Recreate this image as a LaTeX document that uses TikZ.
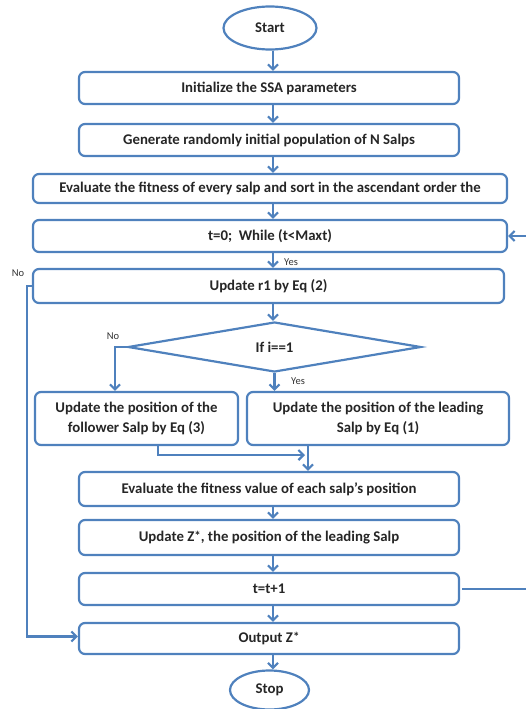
\documentclass[tikz,border=0pt]{standalone}
\usepackage{fontspec}
\setmainfont{Carlito}
\usetikzlibrary{shapes.geometric,arrows.meta}
\definecolor{obl}{RGB}{79,129,189}
\newcommand{\zstar}{\raisebox{0.25ex}{\fontsize{13}{13}\selectfont*}}
\begin{document}
\begin{tikzpicture}[x=1pt,y=-1pt,
  box/.style={draw=obl,line width=2.2pt,rounded corners=6pt,inner sep=0pt,
    font=\fontsize{14.8}{20}\selectfont\bfseries,align=center,text=black!85},
  oval/.style={draw=obl,line width=2.2pt,ellipse,inner sep=0pt,
    font=\fontsize{14.8}{18}\selectfont\bfseries,text=black!85},
  arr/.style={draw=obl,line width=2.2pt,-{Straight Barb[length=5pt,width=10pt]}},
  lab/.style={font=\fontsize{10.5}{12}\selectfont,text=black!80,inner sep=0pt}]
\useasboundingbox (0,0) rectangle (525,709);
\node[oval,minimum width=93pt,minimum height=43pt] (start) at (270,28) {Start};
\node[box,minimum width=380pt,minimum height=32pt] (init) at (269,88) {Initialize the SSA parameters};
\node[box,minimum width=380pt,minimum height=32pt] (gen) at (269,140) {Generate randomly initial population of N Salps};
\node[box,minimum width=474pt,minimum height=29pt] (eval) at (270,188.5) {Evaluate the fitness of every salp and sort in the ascendant order the};
\node[box,minimum width=474pt,minimum height=32pt] (t0) at (270,236) {t=0;\ \ While (t<Maxt)};
\node[box,minimum width=471pt,minimum height=34pt] (r1) at (268.5,286) {Update r1 by Eq (2)};
\node[diamond,draw=obl,line width=2.2pt,inner sep=0pt,minimum width=293pt,minimum height=50pt,
  font=\fontsize{14.8}{18}\selectfont\bfseries,text=black!85] (dia) at (274.5,347) {If i==1};
\node[box,minimum width=203pt,minimum height=53pt] (foll) at (136.5,418.5) {Update the position of the\\follower Salp by Eq (3)};
\node[box,minimum width=262pt,minimum height=53pt] (lead) at (378,418.5) {Update the position of the leading\\Salp by Eq (1)};
\node[box,minimum width=380pt,minimum height=34pt] (evf) at (269,489) {Evaluate the fitness value of each salp’s position};
\node[box,minimum width=380pt,minimum height=35pt] (upz) at (269,537.5) {Update Z\zstar, the position of the leading Salp};
\node[box,minimum width=380pt,minimum height=32pt] (tt) at (269,589) {t=t+1};
\node[box,minimum width=380pt,minimum height=31pt] (out) at (269,638.5) {Output Z\zstar};
\node[oval,minimum width=79pt,minimum height=39pt] (stop) at (269.5,690) {Stop};
% labels
\node[lab,anchor=west] (yes1) at (284,262) {Yes};
\node[lab] (no1) at (18,273) {No};
\node[lab] (no2) at (113,336) {No};
\node[lab,anchor=west] (yes2) at (291,381) {Yes};
% helper coordinates
\coordinate (X) at (273,0);
\coordinate (XL) at (115,0);
\coordinate (XF) at (158,0);
\coordinate (XM) at (308,0);
\coordinate (XR) at (540,0);
\coordinate (XLL) at (27,0);
% main arrows
\draw[arr] (start.south -| X) -- (init.north -| X);
\draw[arr] (init.south -| X) -- (gen.north -| X);
\draw[arr] (gen.south -| X) -- (eval.north -| X);
\draw[arr] (eval.south -| X) -- (t0.north -| X);
\draw[arr] (t0.south -| X) -- (r1.north -| X);
\draw[arr] (r1.south -| X) -- (dia.north -| X);
\draw[arr] (dia.south) -- (lead.north -| dia.south);
\draw[arr] (dia.west) -| (foll.north -| XL);
\coordinate (join) at (305,455);
\draw[arr] (foll.south -| XF) |- (join);
\draw[arr] (lead.south -| XM) -- (evf.north -| XM);
\draw[arr] (evf.south -| X) -- (upz.north -| X);
\draw[arr] (upz.south -| X) -- (tt.north -| X);
\draw[arr] (tt.south -| X) -- (out.north -| X);
\draw[arr] (out.south -| X) -- (stop.north -| X);
% loops
\draw[arr] ([xshift=2pt]tt.east) -- (tt.east -| XR) |- (t0.east);
\draw[arr] (r1.west) -- (r1.west -| XLL) |- ([yshift=2pt]out.west);
\end{tikzpicture}
\end{document}
